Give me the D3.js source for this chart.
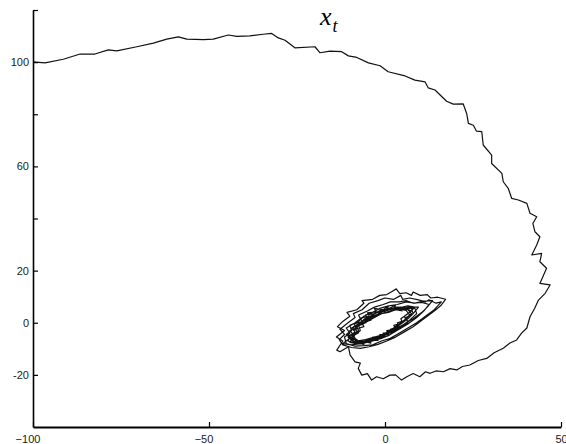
<!DOCTYPE html>
<html><head><meta charset="utf-8">
<script src="https://cdn.jsdelivr.net/npm/d3@7"></script>
<style>
body{margin:0;background:#fff;}
svg{display:block;}
</style></head>
<body><svg id="c" width="566" height="444"></svg>
<script>
// ---- data ----
const xDomain = [-100, 50];
const yDomain = [-40, 120];
const xTicks = [-100, -50, 0, 50];
const yTicks = [-20, 0, 20, 40, 60, 80, 100, 120];
const yTickLabels = ["-20", "0", "20", "", "60", "", "100", ""];

// outer arc of the trajectory
const outerX = [-100,-96.6,-91.4,-86.6,-82.4,-78.6,-76.2,-70.5,-65.8,-62.0,-58.7,-56.3,-51.6,-48.8,-44.5,-42.1,-38.4,-34.6,-32.2,-30.3,-28.4,-25.6,-19.9,-18.5,-15.6,-12.3,-10.4,-8.0,-4.7,-1.4,0.9,5.7,8.5,11.4,12.3,14.2,17.5,19.4,22.2,23.2,23.7,25.1,26.0,27.5,27.9,30.3,30.3,33.2,33.6,35.0,36.0,37.9,40.3,41.2,43.1,42.0,42.6,44.0,43.1,41.7,44.5,44.0,45.9,44.0,46.9,45.5,43.6,42.5,41.2,40.3,38.8,37.4,35.5,33.6,31.0,28.9,26.5,24.1,22.0,20.4,18.5,16.6,14.5,12.8,11.5,9.9,8.0,6.2,4.7,3.0,1.4,-0.5,-2.4,-3.8,-5.0,-6.6,-7.6,-7.0,-8.5,-9.9,-10.4,-12.8,-13.7];
const outerY = [100.1,99.7,101.1,103.1,103.1,104.7,104.3,105.9,107.3,108.8,109.7,108.8,108.6,108.8,110.4,109.9,110.1,110.7,111.0,109.3,108.4,105.5,105.9,103.6,104.2,104.0,102.4,101.8,99.7,98.6,96.3,94.7,93.1,92.4,90.1,89.3,85.0,83.9,84.0,80.3,76.5,75.8,73.5,73.3,68.2,64.3,61.1,57.3,54.1,51.6,47.7,47.1,45.8,42.0,40.7,38.1,34.9,33.0,29.8,26.0,26.6,23.4,20.9,15.1,14.5,11.3,8.7,5.5,2.3,-2.0,-4.0,-6.6,-7.8,-9.8,-11.5,-13.7,-14.5,-16.2,-16.8,-18.1,-17.6,-18.8,-18.5,-19.4,-18.8,-20.7,-19.5,-20.7,-22.0,-20.0,-20.1,-21.5,-20.7,-22.0,-19.5,-20.1,-17.5,-15.5,-15.0,-12.4,-9.2,-11.1,-10.5];

// inner spiral of the trajectory
const spiralX = [
-12.0,-13.8,-11.5,-13.5,-12.0,-10.0,-10.8,-8.0,-6.0,-6.5,-3.5,-1.5,0.5,2.0,3.2,4.2,6.0,7.5,8.0,10.0,12.0,13.0,15.0,17.2,15.8,14.0,12.0,10.0,8.0,5.5,3.0,0.5,-2.0,-4.5,-7.0,-9.5,-12.0,
-13.0,-11.5,-12.8,-10.5,-8.5,-9.0,-6.5,-4.5,-2.0,0.0,2.5,4.5,5.0,7.0,9.5,11.5,12.5,14.5,16.0,14.0,11.5,9.0,6.5,4.0,1.5,-1.0,-3.5,-6.0,-8.5,-11.0,
-11.5,-10.0,-11.0,-8.5,-7.0,-7.5,-5.0,-3.0,-0.5,1.5,4.0,6.0,8.0,10.5,12.5,11.0,9.0,6.5,4.0,1.5,-1.0,-3.5,-6.0,-8.5,-10.5,
-10.0,-8.5,-9.5,-7.0,-6.0,-4.0,-2.0,0.0,2.5,4.5,6.5,8.5,9.0,7.0,5.0,3.0,1.0,-1.5,-4.0,-6.5,-9.0,
-9.5,-8.0,-8.5,-6.0,-4.5,-2.5,-0.5,1.5,3.5,5.5,7.5,8.0,6.5,4.5,2.5,0.5,-2.0,-4.5,-7.0,-9.5,
-10.5,-8.5,-9.0,-7.0,-5.0,-5.5,-3.0,-1.0,1.0,3.0,5.0,7.0,9.5,8.0,6.0,6.5,4.0,2.0,-0.5,-3.0,-5.5,-8.0,-10.0,
-8.5,-7.0,-7.5,-5.5,-3.5,-1.5,0.5,2.5,4.5,6.5,7.5,6.0,4.0,2.0,0.0,-2.5,-5.0,-7.5,
-11.0,-9.5,-10.0,-7.5,-6.0,-3.5,-1.5,1.0,3.5,6.0,8.5,11.0,13.5,12.0,10.5,8.0,5.5,3.0,0.5,-2.0,-4.5,-7.0,-9.5,-12.0,
-9.0,-7.5,-8.0,-5.5,-4.0,-2.0,0.0,2.0,4.0,6.0,7.0,5.5,3.5,1.5,-0.5,-3.0,-5.5,-8.0,
-10.5,-9.0,-10.0,-8.0,-8.8,-6.5,-7.0,-4.5,-5.0,-2.5,-3.0,-0.5,1.0,0.5,3.0,2.5,5.0,6.5,8.5,7.0,5.5,6.0,3.5,4.0,1.5,2.0,-0.5,0.0,-2.5,-2.0,-4.5,-4.0,-6.5,-6.0,-8.5,-9.5,
-9.0,-7.5,-8.5,-6.0,-6.5,-4.0,-4.5,-2.0,-1.0,1.0,0.5,3.0,4.5,6.0,7.5,6.0,4.5,5.0,2.5,3.0,0.5,1.0,-1.5,-1.0,-3.5,-3.0,-5.5,-5.0,-7.5,-8.5,
-9.0,-7.0,-7.5,-5.0,-3.0,-1.0,1.0,3.0,5.0];
const spiralY = [
-7.0,-5.5,-3.0,-1.5,0.5,2.5,4.0,5.0,7.5,8.5,9.0,10.5,10.8,12.0,13.0,11.2,11.5,10.5,11.8,10.5,10.8,9.5,9.8,9.0,6.5,4.5,2.5,0.5,-1.5,-3.5,-5.5,-7.0,-8.3,-9.2,-9.8,-9.5,-8.5,
-6.5,-4.5,-2.5,0.0,2.0,3.5,5.0,7.5,8.5,9.5,9.0,10.5,9.0,9.5,8.8,8.0,8.8,7.5,8.0,5.0,2.5,0.0,-2.0,-4.0,-6.0,-7.0,-8.5,-8.8,-9.0,-8.0,
-5.5,-4.0,-2.0,0.0,1.5,3.0,4.5,6.0,7.0,8.0,8.0,8.5,7.5,7.8,7.0,4.5,2.0,-0.5,-2.5,-4.5,-6.0,-7.0,-7.8,-8.0,-7.0,
-5.0,-3.5,-2.0,-0.5,1.3,2.7,4.0,5.0,5.5,6.0,5.7,5.5,3.5,1.0,-1.0,-3.0,-5.0,-6.0,-7.0,-8.0,-7.5,
-5.5,-3.5,-1.5,0.0,2.0,3.0,4.5,5.0,6.0,5.5,5.5,3.5,1.5,-0.5,-2.5,-4.3,-5.5,-6.7,-7.5,-7.0,
-5.0,-4.0,-1.5,0.0,1.5,3.0,3.5,5.0,5.0,6.0,5.5,6.0,6.0,3.5,2.0,0.0,-2.0,-3.5,-5.0,-6.0,-7.0,-8.0,-7.5,
-4.5,-3.0,-1.0,0.5,2.0,3.5,4.0,5.0,5.0,5.0,3.5,1.5,-0.5,-2.5,-4.0,-5.5,-6.5,-7.0,
-4.5,-3.0,-1.0,0.5,2.5,4.0,5.5,6.5,7.0,8.0,7.5,8.3,8.5,6.0,4.0,1.5,-0.5,-2.5,-4.5,-6.0,-7.0,-8.0,-8.5,-8.0,
-5.0,-3.0,-1.5,0.0,2.0,3.0,4.0,4.5,5.3,4.7,3.0,1.0,-1.0,-3.0,-4.5,-5.5,-6.5,-7.0,
-5.5,-4.5,-3.0,-2.0,-0.5,0.5,1.8,2.5,3.8,4.2,5.5,5.0,6.5,5.0,6.8,5.5,6.0,6.5,6.0,4.0,2.5,1.0,0.0,-1.5,-2.5,-3.8,-4.0,-5.5,-5.5,-6.8,-6.5,-7.8,-7.0,-8.3,-7.5,-6.5,
-5.0,-3.8,-2.5,-1.5,0.0,1.0,2.5,3.0,4.5,4.0,5.5,5.5,5.0,5.5,4.5,3.0,1.5,0.0,-1.0,-2.5,-3.0,-4.5,-4.5,-5.8,-5.5,-6.8,-6.5,-7.5,-7.0,-6.0,
-4.5,-3.0,-1.0,0.5,2.0,3.5,4.0,5.0,4.5];

// ---- drawing ----
const svg = d3.select("#c");
const x = d3.scaleLinear().domain(xDomain).range([33, 561]);
const y = d3.scaleLinear().domain(yDomain).range([427, 10]);

const trajX = outerX.concat(spiralX);
const trajY = outerY.concat(spiralY);
const pts = trajX.map((v, i) => [v, trajY[i]]);

svg.append("path")
  .datum(pts)
  .attr("fill", "none")
  .attr("stroke", "#111")
  .attr("stroke-width", 1.2)
  .attr("stroke-linejoin", "round")
  .attr("d", d3.line().x(d => x(d[0])).y(d => y(d[1])));

const font = "'Liberation Sans', Arial, sans-serif";

const gx = svg.append("g").attr("transform", "translate(0,427)")
  .call(d3.axisBottom(x).tickValues(xTicks).tickSizeInner(-5).tickSizeOuter(0).tickPadding(8)
    .tickFormat(d3.format("d")));
gx.select(".domain").attr("stroke", "#000").attr("stroke-width", 2);
gx.selectAll(".tick line").attr("stroke", "#000").attr("stroke-width", 1.2);
gx.selectAll(".tick text").attr("font-family", font).attr("font-size", 11).attr("fill", "#222")
  .attr("dx", d => d < 0 ? -5.5 : 0);

const gy = svg.append("g").attr("transform", "translate(33,0)")
  .call(d3.axisLeft(y).tickValues(yTicks).tickSizeInner(-5).tickSizeOuter(0).tickPadding(4)
    .tickFormat((d, i) => yTickLabels[i]));
gy.select(".domain").attr("stroke", "#000").attr("stroke-width", 1.6);
gy.selectAll(".tick line").attr("stroke", "#000").attr("stroke-width", 1.2);
gy.selectAll(".tick text").attr("font-family", font).attr("font-size", 11).attr("fill", "#222");

// title x_t
const title = svg.append("text")
  .attr("x", 320).attr("y", 25)
  .attr("font-family", "'Liberation Serif', 'Times New Roman', serif")
  .attr("font-style", "italic").attr("fill", "#000");
title.append("tspan").attr("font-size", 26).text("x");
title.append("tspan").attr("font-size", 18).attr("dy", 7).attr("dx", 1).text("t");
</script>
</body></html>
